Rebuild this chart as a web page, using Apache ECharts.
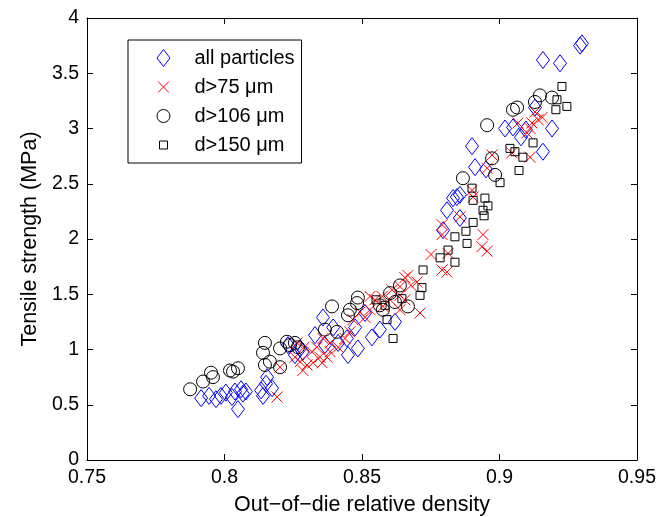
<!DOCTYPE html>
<html><head><meta charset="utf-8">
<script src="https://cdn.jsdelivr.net/npm/echarts@6/dist/echarts.min.js"></script>
<style>html,body{margin:0;padding:0;background:#fff}#c{width:660px;height:517px}</style>
</head><body><div id="c"></div>
<script>
// axis ranges / ticks
const xTicks = [0.75, 0.8, 0.85, 0.9, 0.95];
const yTicks = [0, 0.5, 1, 1.5, 2, 2.5, 3, 3.5, 4];
const xTitle = 'Out\u2212of\u2212die relative density';
const yTitle = 'Tensile strength (MPa)';
const seriesNames = ['all particles', 'd>75 \u03bcm', 'd>106 \u03bcm', 'd>150 \u03bcm'];

// [relative density, tensile strength]
const allParticles = [[0.7915,0.56],[0.7944,0.58],[0.7969,0.55],[0.7987,0.58],[0.8005,0.61],[0.8027,0.57],[0.8038,0.62],[0.8049,0.46],[0.806,0.64],[0.8067,0.60],[0.8078,0.62],[0.8133,0.63],[0.814,0.58],[0.8151,0.69],[0.8155,0.75],[0.8173,0.65],[0.8231,1.04],[0.8256,0.95],[0.8275,1.01],[0.8285,0.98],[0.8329,1.13],[0.8358,1.29],[0.8365,1.04],[0.8395,1.20],[0.8413,1.06],[0.8445,1.10],[0.8449,0.95],[0.8475,1.20],[0.8485,1.01],[0.8511,1.33],[0.8536,1.11],[0.8565,1.18],[0.862,1.25],[0.8795,2.08],[0.8809,2.26],[0.8831,2.37],[0.8845,2.38],[0.8856,2.40],[0.8856,2.19],[0.89,2.84],[0.8911,2.65],[0.8951,2.63],[0.902,3.0],[0.9049,3.01],[0.9078,2.92],[0.9096,2.99],[0.9129,3.19],[0.9158,2.79],[0.9191,3.0],[0.9158,3.62],[0.922,3.59],[0.9293,3.75],[0.93,3.77]];
const d75 = [[0.8191,0.57],[0.8202,0.84],[0.8264,1.06],[0.8256,0.93],[0.8275,0.89],[0.8289,1.02],[0.83,0.86],[0.8285,0.81],[0.8318,0.98],[0.8322,0.88],[0.8336,1.02],[0.8347,0.93],[0.8355,0.88],[0.8358,1.10],[0.8373,0.93],[0.8384,0.98],[0.8384,1.06],[0.8413,1.02],[0.8438,1.10],[0.8456,1.16],[0.8467,1.27],[0.8493,1.34],[0.8511,1.29],[0.8529,1.36],[0.8529,1.48],[0.8547,1.45],[0.8573,1.48],[0.8576,1.39],[0.8602,1.45],[0.8609,1.54],[0.8638,1.49],[0.8638,1.57],[0.8638,1.36],[0.8656,1.45],[0.8656,1.65],[0.8667,1.67],[0.8678,1.58],[0.87,1.61],[0.8711,1.33],[0.8751,1.86],[0.8791,2.13],[0.8791,2.04],[0.8791,1.72],[0.8809,1.70],[0.8813,1.87],[0.8856,2.20],[0.89,2.44],[0.8904,2.38],[0.894,2.04],[0.8936,1.93],[0.8955,1.89],[0.8955,2.64],[0.8973,2.76],[0.9045,2.78],[0.9067,3.05],[0.91,2.96],[0.9111,3.0],[0.9111,2.74],[0.9118,3.05],[0.9129,3.15],[0.914,3.08],[0.9155,3.10]];
const d106 = [[0.7875,0.64],[0.7922,0.71],[0.7951,0.79],[0.7958,0.75],[0.802,0.81],[0.8031,0.80],[0.8049,0.83],[0.8147,1.06],[0.814,0.97],[0.8147,0.86],[0.8165,0.89],[0.8202,0.84],[0.8202,1.01],[0.8227,1.07],[0.8238,1.04],[0.8256,1.06],[0.8267,1.02],[0.8365,1.18],[0.8391,1.39],[0.8409,1.16],[0.8449,1.31],[0.8456,1.36],[0.8482,1.42],[0.8485,1.47],[0.8565,1.40],[0.8576,1.36],[0.8602,1.51],[0.862,1.43],[0.8638,1.58],[0.8667,1.39],[0.8867,2.55],[0.8955,3.03],[0.8973,2.73],[0.8984,2.58],[0.9049,3.17],[0.9064,3.19],[0.9129,3.24],[0.9147,3.30],[0.9191,3.28]];
const d150 = [[0.8551,1.45],[0.8584,1.40],[0.8591,1.27],[0.8613,1.10],[0.8645,1.46],[0.8711,1.49],[0.8718,1.56],[0.8722,1.72],[0.8784,1.83],[0.8813,1.90],[0.8838,2.02],[0.8838,1.79],[0.8878,2.07],[0.8882,1.96],[0.89,2.46],[0.8904,2.35],[0.8904,2.15],[0.894,2.26],[0.8944,2.21],[0.8947,2.37],[0.8958,2.30],[0.9002,2.51],[0.9038,2.82],[0.9056,2.79],[0.9071,2.62],[0.9085,2.74],[0.9122,2.87],[0.9205,3.17],[0.9209,3.26],[0.9227,3.38],[0.9245,3.20]];

const seriesData = [allParticles, d75, d106, d150];
const seriesColors = ['#0000ff', '#ff0000', '#000000', '#000000'];
// marker shapes drawn in an 18x18 box (the leading moves fix the box extent)
const markers = [
  'path://M0,0M18,18M9,0.5L15.5,9L9,17.5L2.5,9Z',
  'path://M0,0M18,18M3.5,3.5L14.5,14.5M3.5,14.5L14.5,3.5',
  'path://M0,0M18,18M15.5,9A6.5,6.5,0,1,1,2.5,9A6.5,6.5,0,1,1,15.5,9Z',
  'path://M0,0M18,18M5,5L13,5L13,13L5,13Z'
];

const FONT = "'Liberation Sans', Arial, Helvetica, sans-serif";
const fmt = v => String(Math.round(v * 100) / 100);

const chart = echarts.init(document.getElementById('c'), null, {renderer: 'canvas'});
const axisCommon = {
  axisLine: {show: true, onZero: false, lineStyle: {color: '#000', width: 1}},
  axisTick: {show: true, inside: true, length: 6, lineStyle: {color: '#000', width: 1}},
  splitLine: {show: false}
};
chart.setOption({
  animation: false,
  backgroundColor: '#fff',
  grid: {left: 87, top: 18, right: 23, bottom: 57, containLabel: false, outerBoundsMode: 'none'},
  xAxis: [
    Object.assign({}, axisCommon, {
      type: 'value', position: 'bottom',
      min: xTicks[0], max: xTicks[xTicks.length - 1], interval: xTicks[1] - xTicks[0],
      name: xTitle, nameLocation: 'middle', nameGap: 34,
      nameTextStyle: {fontFamily: FONT, fontSize: 21.5, color: '#000'},
      axisLabel: {margin: 8, fontFamily: FONT, fontSize: 19.5, color: '#000', formatter: fmt}
    }),
    Object.assign({}, axisCommon, {
      type: 'value', position: 'top',
      min: xTicks[0], max: xTicks[xTicks.length - 1], interval: xTicks[1] - xTicks[0],
      axisLabel: {show: false}
    })
  ],
  yAxis: [
    Object.assign({}, axisCommon, {
      type: 'value', position: 'left',
      min: yTicks[0], max: yTicks[yTicks.length - 1], interval: yTicks[1] - yTicks[0],
      name: yTitle, nameLocation: 'middle', nameGap: 45, nameRotate: 90,
      nameTextStyle: {fontFamily: FONT, fontSize: 21.5, color: '#000'},
      axisLabel: {margin: 8, fontFamily: FONT, fontSize: 19.5, color: '#000', formatter: fmt}
    }),
    Object.assign({}, axisCommon, {
      type: 'value', position: 'right',
      min: yTicks[0], max: yTicks[yTicks.length - 1], interval: yTicks[1] - yTicks[0],
      axisLabel: {show: false}
    })
  ],
  legend: {
    orient: 'vertical', left: 128, top: 40,
    padding: [8, 7, 8, 26],
    itemWidth: 52, itemHeight: 18, itemGap: 9,
    borderColor: '#000', borderWidth: 1, borderRadius: 0,
    backgroundColor: '#fff',
    selectedMode: false,
    textStyle: {fontFamily: FONT, fontSize: 20, color: '#000'},
    data: seriesNames.map((n, i) => ({
      name: n, icon: markers[i],
      itemStyle: {color: 'transparent', borderColor: seriesColors[i], borderWidth: 1}
    }))
  },
  series: seriesNames.map((n, i) => ({
    name: n, type: 'scatter', xAxisIndex: 0, yAxisIndex: 0,
    data: seriesData[i],
    symbol: markers[i], symbolSize: 18,
    itemStyle: {color: 'transparent', borderColor: seriesColors[i], borderWidth: 1, opacity: 1},
    emphasis: {disabled: true},
    silent: true, z: 2 + i
  }))
});
</script></body></html>
